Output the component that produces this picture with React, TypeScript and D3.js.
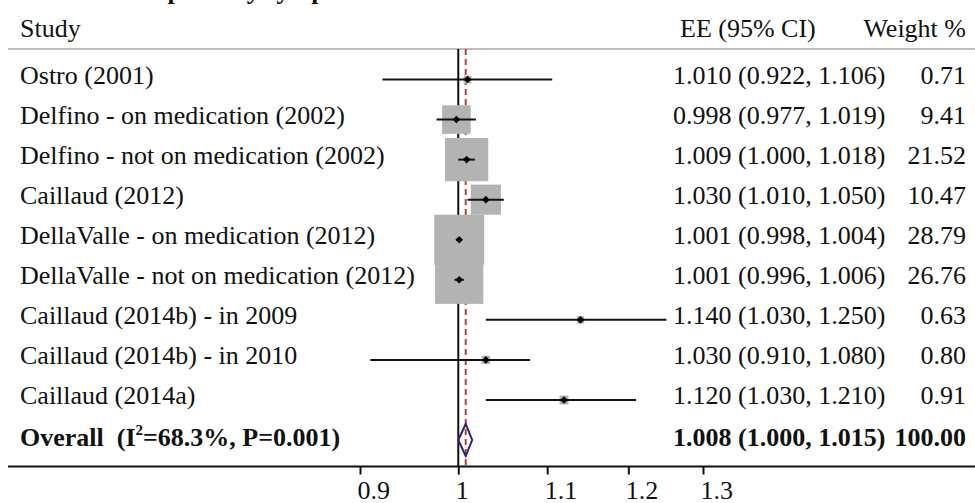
import React from 'react';
import * as d3 from 'd3';

const studies = [
  'Ostro (2001)',
  'Delfino - on medication (2002)',
  'Delfino - not on medication (2002)',
  'Caillaud (2012)',
  'DellaValle - on medication (2012)',
  'DellaValle - not on medication (2012)',
  'Caillaud (2014b) - in 2009',
  'Caillaud (2014b) - in 2010',
  'Caillaud (2014a)',
];
const ee = [1.010, 0.998, 1.009, 1.030, 1.001, 1.001, 1.140, 1.030, 1.120];
const lo = [0.922, 0.977, 1.000, 1.010, 0.998, 0.996, 1.030, 0.910, 1.030];
const hi = [1.106, 1.019, 1.018, 1.050, 1.004, 1.006, 1.250, 1.080, 1.210];
const weights = [0.71, 9.41, 21.52, 10.47, 28.79, 26.76, 0.63, 0.80, 0.91];
const overallEE = 1.008;
const overallLo = 1.000;
const overallHi = 1.015;
const overallWeight = 100.0;
const tickValues = [0.9, 1, 1.1, 1.2, 1.3];

const W = 975;
const H = 503;
const FONT = "'Liberation Serif', 'DejaVu Serif', serif";
const fmt3 = d3.format('.3f');
const fmt2 = d3.format('.2f');

const Axis = ({ y, scale }) => {
  const axis = d3.axisBottom(scale).tickValues(tickValues).tickSize(8).tickFormat(d3.format(''));
  return (
    <g
      transform={`translate(0, ${y})`}
      ref={node => {
        if (!node) return;
        const g = d3.select(node);
        g.call(axis);
        g.attr('font-family', null).attr('font-size', null);
        g.select('.domain').remove();
        g.selectAll('line').attr('stroke', '#111').attr('stroke-width', 2);
        g.selectAll('text')
          .style('font-family', FONT)
          .style('font-size', '26px')
          .attr('fill', '#111')
          .attr('text-anchor', 'start')
          .attr('dx', -3)
          .attr('dy', 0)
          .attr('y', 32);
      }}
    />
  );
};

function App() {
  const x = d3.scaleLog().domain([0.9, 1.3]).range([360, 703]);
  const y = d3.scaleLinear().domain([0, studies.length]).range([79.5, 440]);
  const box = d3.scaleSqrt().domain([0, d3.max(weights)]).range([0, 50]);
  const top = 49;
  const axisY = 466.5;
  const oy = y(studies.length);
  const dm = 3.8;

  return (
    <svg width={W} height={H} style={{ position: 'absolute', left: 0, top: 0, background: '#fff', fontFamily: FONT, fontSize: '26px' }}
      fill="#111">
      <text x={127} y={-1} fontWeight="bold">Respiratory symptoms</text>
      <text x={20} y={37}>Study</text>
      <text x={680} y={37}>EE (95% CI)</text>
      <text x={966} y={37} textAnchor="end">Weight %</text>
      <line x1={8} x2={W} y1={top} y2={top} stroke="#a8a8a8" strokeWidth={1.5} />

      <line x1={x(1)} x2={x(1)} y1={top} y2={axisY} stroke="#111" strokeWidth={2} />
      <line x1={x(overallEE)} x2={x(overallEE)} y1={top} y2={axisY} stroke="#b5403c" strokeWidth={2} strokeDasharray="6,4" />

      {studies.map((s, i) => {
        const cy = y(i);
        const b = box(weights[i]);
        return (
          <rect key={s} x={x(ee[i]) - b / 2} y={cy - b / 2} width={b} height={b} fill="#b3b3b3" />
        );
      })}
      {studies.map((s, i) => {
        const cy = y(i);
        const cx = x(ee[i]);
        return (
          <g key={s + 'ci'}>
            <line x1={x(lo[i])} x2={x(hi[i])} y1={cy} y2={cy} stroke="#111" strokeWidth={2} />
            <path d={`M${cx - dm},${cy}L${cx},${cy - dm}L${cx + dm},${cy}L${cx},${cy + dm}Z`} fill="#000" />
            <text x={20} y={cy + 4}>{s}</text>
            <text x={673} y={cy + 4}>{`${fmt3(ee[i])} (${fmt3(lo[i])}, ${fmt3(hi[i])})`}</text>
            <text x={966} y={cy + 4} textAnchor="end">{fmt2(weights[i])}</text>
          </g>
        );
      })}

      <path
        d={`M${x(overallLo)},${oy}L${x(overallEE)},${oy - 16}L${x(overallHi)},${oy}L${x(overallEE)},${oy + 16}Z`}
        fill="none" stroke="#27277a" strokeWidth={2} />
      <text x={20} y={oy + 6} fontWeight="bold" style={{ whiteSpace: 'pre' }}>
        {'Overall  (I'}<tspan style={{ fontSize: '15px' }} dy={-11}>2</tspan><tspan dy={11}>{'=68.3%, P=0.001)'}</tspan>
      </text>
      <text x={673} y={oy + 6} fontWeight="bold">{`${fmt3(overallEE)} (${fmt3(overallLo)}, ${fmt3(overallHi)})`}</text>
      <text x={966} y={oy + 6} fontWeight="bold" textAnchor="end">{fmt2(overallWeight)}</text>

      <line x1={8} x2={W} y1={axisY} y2={axisY} stroke="#111" strokeWidth={2} />
      <Axis y={axisY} scale={x} />
    </svg>
  );
}

export default App;
